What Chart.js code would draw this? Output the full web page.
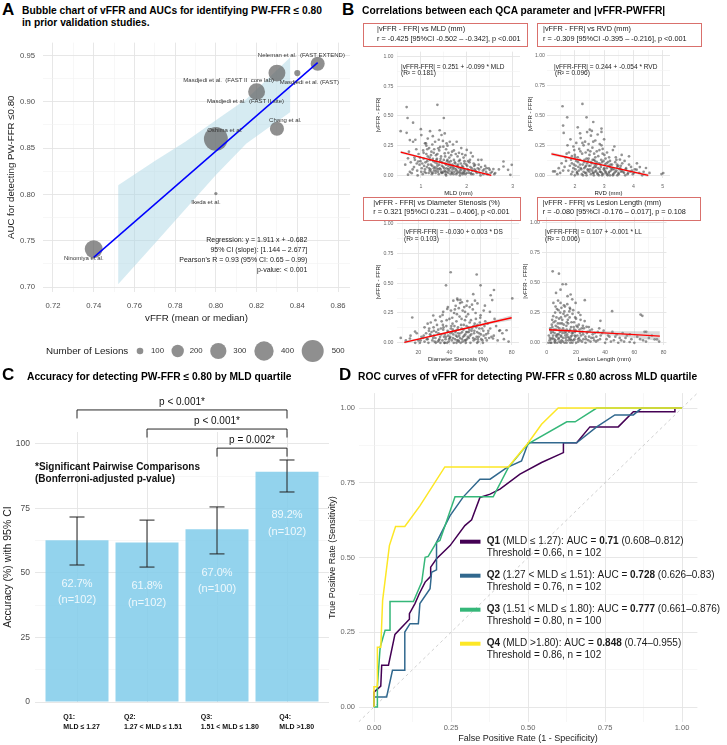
<!DOCTYPE html>
<html><head><meta charset="utf-8">
<title>vFFR figure</title>
<script src="https://cdn.jsdelivr.net/npm/chart.js@4.4.1/dist/chart.umd.min.js"></script>
<style>
html,body{margin:0;padding:0;background:#fff;}
body{width:727px;height:745px;position:relative;overflow:hidden;font-family:'Liberation Sans',Arial,Helvetica,sans-serif;color:#1a1a1a;}
canvas{position:absolute;display:block;}
.t{position:absolute;white-space:nowrap;}
.box{position:absolute;border:1px solid #d9706c;box-sizing:border-box;}
</style></head><body>
<script>
// ================= DATA =================
// --- Panel A: prior validation studies ---
const studyNames = ['Ninomiya et al.','Ikeda et al.','Oshima et al.','Masdjedi et al.  (FAST II site)','Chang et al.','Masdjedi et al.  (FAST II  core lab)','Masdjedi et al. (FAST)','Neleman et al.  (FAST EXTEND)'];
const studyVFFR = [0.74, 0.80, 0.80, 0.82, 0.83, 0.83, 0.84, 0.85];
const studyAUC = [0.741, 0.801, 0.860, 0.911, 0.871, 0.931, 0.931, 0.941];
const studyLesions = [350, 70, 580, 320, 240, 320, 95, 240];
const studyLabelX = [0.7351, 0.7951, 0.8044, 0.8146, 0.8341, 0.8063, 0.8459, 0.8420];
const studyLabelY = [0.731, 0.7919, 0.8688, 0.9009, 0.8795, 0.9233, 0.9212, 0.950];
const regSlope = 1.911, regIntercept = -0.682, regXRange = [0.74, 0.85];
const ciX = [0.752, 0.77, 0.785, 0.80, 0.815, 0.8366];
const ciUpper = [0.810, 0.836, 0.857, 0.880, 0.903, 0.948];
const ciLower = [0.703, 0.747, 0.784, 0.821, 0.855, 0.889];
const statLines = ['Regression: y = 1.911 x + -0.682','95% CI (slope): [1.144 – 2.677]',"Pearson's R = 0.93 (95% CI: 0.65 – 0.99)",'p-value: < 0.001'];
const legendN = [100, 200, 300, 400, 500];
const aXTicks = [0.72,0.74,0.76,0.78,0.80,0.82,0.84,0.86];
const aYTicks = [0.70,0.75,0.80,0.85,0.90,0.95];

// --- Panel B: |vFFR-FFR| vs QCA parameters (x,y pairs) ---
const mldPts = [0.69,0.575,1.36,0.594,0.71,0.483,1.50,0.483,0.83,0.444,0.56,0.372,0.69,0.358,1.00,0.389,1.20,0.372,1.41,0.38,1.52,0.353,1.45,0.34,0.76,0.297,0.83,0.283,1.01,0.339,1.09,0.27,1.31,0.283,1.63,0.283,1.78,0.283,2.00,0.214,1.23,0.20,1.38,0.228,1.49,0.242,1.52,0.186,0.72,0.144,0.87,0.131,0.94,0.117,2.80,0.117,2.98,0.089,2.80,0.075,2.90,0.047,2.58,0.053,0.72,0.006,0.80,0.019,2.32,0.131,2.25,0.131,2.43,0.061,2.50,0.047,2.18,0.089,2.07,0.131,
1.05,0.21,1.12,0.25,1.18,0.23,1.25,0.26,1.28,0.19,1.33,0.17,1.40,0.21,1.44,0.16,1.55,0.22,1.60,0.19,1.66,0.17,1.72,0.21,1.80,0.16,1.85,0.13,1.90,0.18,1.95,0.12,0.95,0.18,0.90,0.22,0.98,0.15,1.06,0.14,1.10,0.11,1.15,0.16,1.20,0.13,1.22,0.09,1.27,0.12,1.30,0.07,1.35,0.10,1.38,0.05,1.42,0.12,1.46,0.08,1.48,0.03,1.53,0.10,1.56,0.06,1.58,0.13,1.62,0.04,1.64,0.09,1.68,0.02,1.70,0.07,1.74,0.11,1.76,0.05,1.79,0.08,1.82,0.03,1.84,0.06,1.87,0.10,1.89,0.02,1.92,0.07,1.96,0.04,1.99,0.09,2.02,0.05,2.05,0.02,2.08,0.07,2.12,0.04,2.15,0.10,2.20,0.03,2.24,0.06,2.28,0.02,2.35,0.04,2.40,0.08,2.45,0.01,2.55,0.03,2.62,0.02,2.70,0.05,1.02,0.06,1.08,0.03,1.13,0.07,1.17,0.02,1.21,0.05,1.24,0.01,1.29,0.04,1.32,0.02,1.36,0.08,1.39,0.01,1.43,0.05,1.47,0.02,1.51,0.06,1.54,0.01,1.57,0.03,1.61,0.11,1.65,0.01,1.69,0.05,1.73,0.03,1.77,0.01,1.81,0.09,1.86,0.04,1.91,0.01,1.94,0.05,2.00,0.02,2.10,0.01,2.17,0.05,2.26,0.09,0.85,0.07,0.92,0.04,0.97,0.09,0.78,0.11,0.66,0.09,0.74,0.20,0.88,0.30,1.15,0.31,1.26,0.33,1.48,0.29,1.58,0.25,1.70,0.26,1.88,0.23,2.13,0.16,1.35,0.14,1.19,0.04,1.44,0.03,1.60,0.02,1.72,0.13,1.93,0.15,2.03,0.12,1.12,0.18,1.04,0.01,0.93,0.00,1.55,0.00,1.85,0.00,2.30,0.00,2.95,0.005,2.60,0.01,
1.01,0.03,1.03,0.10,1.07,0.08,1.09,0.05,1.11,0.02,1.14,0.12,1.16,0.09,1.18,0.06,1.19,0.15,1.23,0.03,1.25,0.08,1.26,0.14,1.28,0.06,1.31,0.11,1.33,0.04,1.34,0.13,1.37,0.03,1.40,0.09,1.41,0.06,1.43,0.14,1.45,0.02,1.46,0.11,1.49,0.07,1.50,0.13,1.52,0.04,1.55,0.09,1.57,0.12,1.59,0.05,1.60,0.08,1.63,0.06,1.65,0.12,1.67,0.03,1.69,0.09,1.71,0.01,1.73,0.06,1.75,0.10,1.78,0.04,1.80,0.07,1.83,0.12,1.85,0.02,1.88,0.05,1.90,0.08,1.93,0.03,1.95,0.10,1.97,0.01,2.01,0.08,2.04,0.04,2.06,0.11,2.09,0.02,2.11,0.06,2.14,0.01,2.16,0.08,2.19,0.04,2.22,0.02,2.27,0.05,2.31,0.07,2.36,0.01,2.38,0.05,2.42,0.03,2.48,0.06,2.52,0.02,1.06,0.19,1.14,0.22,1.22,0.17,1.29,0.22,1.36,0.18,1.42,0.24,1.53,0.16,1.62,0.15,1.68,0.20,1.76,0.18,1.83,0.19,1.97,0.17,2.09,0.19,0.99,0.12,0.91,0.10,0.86,0.15,0.82,0.05,0.76,0.03,1.11,0.27,1.39,0.30,1.56,0.27,1.26,0.02,1.34,0.06,1.53,0.03,1.66,0.07,1.79,0.02,1.94,0.02];
const rvdPts = [1.58,0.575,2.26,0.594,1.74,0.483,2.40,0.483,1.60,0.414,2.63,0.444,1.62,0.353,2.51,0.38,2.91,0.389,2.91,0.361,5.02,0.019,4.96,0.011,1.26,0.033,1.32,0.033,3.85,0.158,3.54,0.131,4.22,0.069,4.43,0.061,4.11,0.047,
1.85,0.30,2.05,0.27,2.20,0.31,2.35,0.28,2.55,0.33,2.70,0.29,2.85,0.26,3.00,0.30,1.95,0.24,2.15,0.22,2.30,0.25,2.45,0.21,2.60,0.23,2.75,0.20,2.95,0.22,3.10,0.19,3.30,0.21,1.80,0.19,2.00,0.17,2.10,0.15,2.25,0.18,2.40,0.14,2.50,0.17,2.65,0.13,2.80,0.16,3.05,0.14,3.20,0.12,3.40,0.15,1.70,0.12,1.90,0.10,2.05,0.12,2.18,0.09,2.32,0.11,2.48,0.08,2.58,0.10,2.72,0.07,2.88,0.09,3.00,0.06,3.15,0.08,3.28,0.05,3.45,0.07,3.60,0.04,3.75,0.06,3.90,0.03,4.05,0.05,1.65,0.07,1.78,0.04,1.95,0.06,2.08,0.03,2.22,0.05,2.35,0.02,2.45,0.04,2.55,0.01,2.62,0.06,2.70,0.03,2.78,0.01,2.85,0.05,2.92,0.02,3.02,0.04,3.10,0.01,3.18,0.03,3.25,0.06,3.35,0.02,3.42,0.04,3.50,0.01,3.58,0.03,3.68,0.02,3.80,0.01,3.95,0.04,4.20,0.02,4.30,0.00,1.50,0.02,1.55,0.10,1.68,0.15,1.88,0.01,2.00,0.00,2.12,0.07,2.28,0.00,2.38,0.08,2.52,0.05,2.68,0.09,2.75,0.11,2.82,0.00,2.98,0.12,3.08,0.10,3.12,0.00,3.22,0.09,3.38,0.11,3.48,0.08,3.55,0.06,3.62,0.10,3.72,0.00,3.85,0.09,3.98,0.01,4.12,0.10,4.35,0.03,4.55,0.02,2.42,0.36,2.58,0.37,2.18,0.35,2.78,0.34,1.98,0.21,3.35,0.24,3.60,0.17,2.90,0.13,2.10,0.40,2.02,0.05,2.32,0.06,2.62,0.02,2.88,0.03,3.05,0.02,3.30,0.00,2.45,0.12,2.70,0.15,2.95,0.18,3.70,0.12,1.45,0.06,1.75,0.25,1.90,0.16,
2.03,0.08,2.07,0.02,2.11,0.11,2.14,0.04,2.17,0.13,2.20,0.06,2.24,0.01,2.27,0.09,2.30,0.03,2.33,0.13,2.36,0.07,2.39,0.02,2.42,0.10,2.44,0.05,2.47,0.14,2.50,0.03,2.53,0.08,2.56,0.11,2.59,0.04,2.61,0.13,2.64,0.02,2.67,0.07,2.69,0.12,2.72,0.04,2.74,0.09,2.77,0.02,2.80,0.06,2.83,0.10,2.86,0.03,2.89,0.07,2.93,0.11,2.96,0.01,2.99,0.05,3.03,0.09,3.06,0.03,3.09,0.06,3.13,0.11,3.16,0.02,3.19,0.07,3.23,0.04,3.27,0.09,3.31,0.01,3.34,0.05,3.39,0.03,3.44,0.09,3.49,0.02,3.53,0.05,3.57,0.08,3.65,0.03,3.74,0.05,3.82,0.02,3.92,0.07,4.02,0.02,1.83,0.08,1.87,0.13,1.92,0.03,1.97,0.09,2.01,0.15,2.19,0.20,2.37,0.19,2.53,0.20,2.66,0.18,2.84,0.21,3.01,0.17,3.17,0.15,3.42,0.13,2.26,0.27,2.47,0.26,2.63,0.28,2.91,0.25,1.72,0.18,1.60,0.04,1.40,0.01,2.10,0.01,2.40,0.00,2.65,0.00,2.93,0.00,3.20,0.00,3.45,0.00];
const dsPts = [40.8,0.592,57.5,0.573,37.8,0.482,60.0,0.482,68.6,0.443,55.3,0.408,66.5,0.399,80.4,0.372,67.5,0.358,45.3,0.358,42.5,0.353,16.1,0.212,17.9,0.094,8.7,0.041,14.6,0.036,72.5,0.105,76.7,0.105,68.0,0.036,29.6,0.229,35.6,0.234,38.6,0.284,46.8,0.333,51.0,0.311,56.4,0.353,62.8,0.311,
20,0.02,22,0.05,24,0.01,25,0.08,26,0.03,27,0.12,28,0.06,29,0.02,30,0.10,31,0.04,32,0.15,32.5,0.01,33,0.08,34,0.05,35,0.18,35.5,0.02,36,0.11,37,0.07,37.5,0.03,38,0.14,38.5,0.00,39,0.09,40,0.20,40.5,0.05,41,0.12,41.5,0.02,42,0.16,42.5,0.07,43,0.25,43.5,0.03,44,0.10,44.5,0.18,45,0.05,45.5,0.13,46,0.01,46.5,0.22,47,0.08,47.5,0.15,48,0.03,48.5,0.27,49,0.11,49.5,0.06,50,0.19,50.5,0.02,51,0.14,51.5,0.09,52,0.24,52.5,0.04,53,0.17,54,0.07,54.5,0.12,55,0.28,55.5,0.02,56,0.10,57,0.20,57.5,0.05,58,0.15,59,0.08,60,0.23,60.5,0.03,61,0.12,62,0.06,63,0.18,64,0.02,65,0.10,66,0.26,67,0.05,70,0.14,71,0.02,74,0.08,78,0.01,18,0.00,21,0.00,23,0.04,26.5,0.00,28.5,0.09,30.5,0.01,33.5,0.03,36.5,0.05,39.5,0.01,40.2,0.04,42.8,0.00,44.2,0.06,46.8,0.04,47.2,0.00,49.8,0.02,51.8,0.05,53.5,0.00,56.5,0.03,58.5,0.01,61.5,0.00,63.5,0.07,28,0.17,31,0.19,34,0.22,36,0.26,39,0.30,41,0.27,44,0.31,46,0.29,48,0.34,50,0.26,53,0.30,58,0.33,62,0.27,45,0.37,47,0.36,24,0.13,26,0.16,12,0.02,15,0.06,19,0.08,34.5,0.12,43.2,0.14,48.2,0.09,52.8,0.11,57.2,0.13,59.5,0.17,64.5,0.16,69,0.20,75,0.03,30,0.06,37,0.00,41.8,0.09,45.8,0.02,50.2,0.07,55.8,0.08,
25.5,0.03,27.5,0.07,29.5,0.04,31.5,0.09,33.2,0.02,34.8,0.07,36.2,0.13,37.8,0.05,38.8,0.10,39.8,0.03,40.8,0.08,41.2,0.14,42.2,0.04,43.8,0.09,44.8,0.02,45.2,0.11,46.2,0.06,47.8,0.12,48.8,0.05,49.2,0.15,50.8,0.09,51.2,0.03,52.2,0.13,53.2,0.06,54.2,0.10,55.2,0.04,56.2,0.16,57.8,0.09,58.2,0.03,59.2,0.12,60.2,0.07,61.8,0.10,62.5,0.14,63.2,0.04,64.8,0.08,66.2,0.12,68.5,0.06,72,0.10,26.8,0.10,29.8,0.13,32.8,0.11,35.8,0.15,38.2,0.19,41.8,0.21,44.8,0.24,47.8,0.20,50.8,0.22,53.8,0.19,56.8,0.25,59.8,0.21,43.5,0.28,49.5,0.30,51.5,0.35,54.5,0.32,36.8,0.00,39.2,0.06,42.2,0.11,45.5,0.08,48.5,0.01,52.5,0.09,55.5,0.14,58.8,0.05,61.2,0.02,65.5,0.04,23.5,0.06,21.5,0.02,31.2,0.00,34.2,0.00,44.5,0.00,50.5,0.00,57.8,0.00];
const llPts = [4.1,0.592,8.4,0.573,10.9,0.485,13.2,0.485,9.5,0.44,6.4,0.413,16.4,0.40,14.3,0.386,26.1,0.353,44.8,0.262,64.3,0.234,65.5,0.223,36.8,0.182,56.8,0.006,73.9,0.028,75.5,0.028,67.0,0.091,68.2,0.091,27.3,0.132,
2,0.02,3,0.08,3.5,0.15,4,0.04,4.5,0.22,5,0.11,5.5,0.01,6,0.18,6.5,0.06,7,0.28,7.5,0.13,8,0.03,8.5,0.20,9,0.09,9.5,0.33,10,0.05,10.5,0.16,11,0.01,11.5,0.24,12,0.10,12.5,0.30,13,0.04,13.5,0.14,14,0.07,14.5,0.19,15,0.02,15.5,0.26,16,0.11,16.5,0.05,17,0.17,17.5,0.36,18,0.08,18.5,0.13,19,0.03,19.5,0.21,20,0.10,21,0.06,22,0.15,23,0.02,24,0.12,25,0.07,26,0.18,27,0.03,28,0.09,29,0.05,30,0.01,31,0.11,32,0.04,33,0.08,35,0.02,37,0.06,39,0.10,41,0.03,43,0.05,46,0.02,48,0.07,50,0.04,53,0.01,55,0.06,58,0.03,62,0.05,66,0.02,70,0.04,77,0.01,1.5,0.06,2.5,0.12,3.2,0.00,4.2,0.09,5.2,0.03,6.2,0.14,7.2,0.00,8.2,0.07,9.2,0.16,10.2,0.02,11.2,0.12,12.2,0.00,13.2,0.09,14.2,0.23,15.2,0.04,16.2,0.00,17.2,0.08,18.2,0.27,19.2,0.06,20.2,0.00,21.2,0.13,22.2,0.04,23.2,0.19,24.2,0.01,25.2,0.03,5.8,0.25,7.8,0.35,9.8,0.21,11.8,0.31,13.8,0.17,15.8,0.29,19.8,0.33,21.8,0.25,6.8,0.05,8.8,0.01,10.8,0.08,12.8,0.06,16.8,0.02,18.8,0.11,22.8,0.08,24.8,0.14,28.8,0.13,33.8,0.01,36,0.12,40,0.00,45,0.09,52,0.08,60,0.00,72,0.06,3.8,0.19,2.2,0.04,1.2,0.00,
2.8,0.10,3.3,0.03,3.9,0.13,4.4,0.06,4.8,0.17,5.4,0.08,5.9,0.02,6.3,0.11,6.7,0.21,7.3,0.07,7.7,0.16,8.3,0.04,8.7,0.12,9.3,0.25,9.7,0.06,10.3,0.10,10.7,0.19,11.3,0.04,11.7,0.15,12.3,0.08,12.7,0.22,13.3,0.02,13.7,0.11,14.3,0.05,14.7,0.16,15.3,0.09,15.7,0.21,16.3,0.03,16.7,0.13,17.3,0.06,17.7,0.24,18.3,0.02,18.7,0.17,19.3,0.09,19.7,0.05,20.5,0.14,21.5,0.03,22.5,0.11,23.5,0.06,24.5,0.09,25.5,0.12,26.5,0.05,27.5,0.08,28.5,0.02,29.5,0.10,31.5,0.07,32.5,0.02,34,0.05,36.5,0.03,38,0.08,42,0.06,44,0.01,47,0.05,51,0.02,54,0.04,57,0.07,64,0.03,68,0.01,6.1,0.30,8.1,0.27,10.1,0.29,12.1,0.26,14.1,0.32,16.1,0.28,20.1,0.20,23.1,0.23,4.6,0.33,2.6,0.00,5.6,0.00,9.6,0.00,13.6,0.00,17.6,0.00,21.6,0.01,26.6,0.00,30.6,0.04,35,0.09,49,0.00];
// fitted lines with half-width of 95% CI band
const fitMLDx = [0.56, 1.0, 1.55, 2.0, 2.535], fitMLDy = [0.196, 0.152, 0.098, 0.053, 0.0], fitMLDse = [0.012, 0.008, 0.005, 0.007, 0.010];
const fitRVDx = [1.2, 2.0, 2.8, 3.6, 4.51], fitRVDy = [0.179, 0.136, 0.093, 0.050, 0.0], fitRVDse = [0.013, 0.008, 0.006, 0.008, 0.013];
const fitDSx = [11, 25, 40, 55, 68, 80], fitDSy = [0.003, 0.045, 0.090, 0.135, 0.174, 0.210], fitDSse = [0.012, 0.008, 0.006, 0.008, 0.013, 0.020];
const fitLLx = [1.6, 15, 30, 45, 60, 77.5], fitLLy = [0.108, 0.099, 0.088, 0.078, 0.067, 0.055], fitLLse = [0.010, 0.007, 0.010, 0.018, 0.028, 0.040];
const corrTitles = [
  ['|vFFR - FFR| vs MLD (mm)','r = -0.425 [95%CI -0.502 – -0.342], p <0.001'],
  ['|vFFR - FFR| vs RVD (mm)','r = -0.309 [95%CI -0.395 – -0.216], p <0.001'],
  ['|vFFR - FFR| vs Diameter Stenosis (%)','r = 0.321 [95%CI 0.231 – 0.406], p <0.001'],
  ['|vFFR - FFR| vs Lesion Length (mm)','r = -0.080 [95%CI -0.176 – 0.017], p = 0.108']];
const corrEquations = [
  ['|vFFR-FFR| = 0.251 + -0.099 * MLD','(R² = 0.181)'],
  ['|vFFR-FFR| = 0.244 + -0.054 * RVD',' (R² = 0.096)'],
  ['|vFFR-FFR| = -0.030 + 0.003 * DS','(R² = 0.103)'],
  ['|vFFR-FFR| = 0.107 + -0.001 * LL',' (R² = 0.006)']];
const yTicksB = [0, 0.25, 0.5, 0.75, 1];

// --- Panel C: accuracy by MLD quartile ---
const quartileNames = ['Q1:','Q2:','Q3:','Q4:'];
const quartileRanges = ['MLD ≤ 1.27','1.27 < MLD ≤ 1.51','1.51 < MLD ≤ 1.80','MLD >1.80'];
const accuracy = [62.7, 61.8, 67.0, 89.2];
const accLower = [53.1, 52.3, 57.4, 81.4];
const accUpper = [71.7, 70.5, 75.6, 93.8];
const accN = [102, 102, 100, 102];
const bracketPairs = [[1,4],[2,4],[3,4]];
const bracketY = [113.2, 105.8, 98.4];
const bracketLabels = ['p < 0.001*','p < 0.001*','p = 0.002*'];
const yTicksC = [0, 25, 50, 75, 100];

// --- Panel D: ROC curves ---
const rocQ1x = [0,0,0.022,0.025,0.047,0.068,0.115,0.115,0.133,0.147,0.166,0.184,0.184,0.203,0.247,0.295,0.317,0.344,0.377,0.409,0.474,0.544,0.615,0.615,0.658,0.701,0.793,0.842,0.977,0.977,1];
const rocQ1y = [0,0.05,0.07,0.14,0.14,0.243,0.294,0.312,0.346,0.379,0.418,0.437,0.468,0.496,0.54,0.607,0.626,0.701,0.712,0.729,0.779,0.818,0.851,0.884,0.884,0.937,0.937,0.988,0.988,1,1];
const rocQ2x = [0,0,0.041,0.06,0.1,0.1,0.117,0.144,0.149,0.182,0.187,0.203,0.203,0.203,0.247,0.29,0.344,0.377,0.431,0.479,0.501,0.658,0.723,0.782,0.842,0.869,1];
const rocQ2y = [0,0.034,0.034,0.123,0.123,0.251,0.279,0.279,0.346,0.396,0.451,0.459,0.512,0.551,0.64,0.703,0.762,0.762,0.801,0.823,0.884,0.884,0.937,0.977,0.977,1,1];
const rocQ3x = [0,0.011,0.011,0.02,0.036,0.052,0.052,0.128,0.155,0.166,0.176,0.203,0.214,0.263,0.387,0.436,0.485,0.506,0.626,0.653,0.723,1];
const rocQ3y = [0,0,0.07,0.2,0.257,0.257,0.353,0.353,0.418,0.501,0.504,0.551,0.557,0.703,0.703,0.801,0.862,0.884,0.954,0.954,1,1];
const rocQ4x = [0,0,0.011,0.011,0.022,0.028,0.05,0.07,0.1,0.149,0.23,0.436,0.501,0.544,0.598,1];
const rocQ4y = [0,0.068,0.068,0.2,0.2,0.357,0.54,0.604,0.604,0.673,0.803,0.803,0.884,0.946,1,1];
const rocNames = ['Q1','Q2','Q3','Q4'];
const rocRanges = [' (MLD ≤ 1.27): AUC = ',' (1.27 < MLD ≤ 1.51): AUC = ',' (1.51 < MLD ≤ 1.80): AUC = ',' (MLD >1.80): AUC = '];
const rocAUC = ['0.71','0.728','0.777','0.848'];
const rocCI = [' (0.608–0.812)',' (0.626–0.83)',' (0.661–0.876)',' (0.74–0.955)'];
const rocThreshold = ['0.66','0.76','0.80','0.86'];
const rocN = [102, 102, 100, 102];
const rocColors = ['#440154','#31688E','#35B779','#FDE725'];
const dTicks = [0, 0.25, 0.5, 0.75, 1];

// ================= HELPERS =================
const F = "'Liberation Sans', Arial, Helvetica, sans-serif";
Chart.defaults.font.family = F;
Chart.defaults.animation = false;
Chart.defaults.responsive = false;
Chart.defaults.maintainAspectRatio = false;
Chart.defaults.devicePixelRatio = 1;
Chart.defaults.plugins.legend.display = false;
Chart.defaults.plugins.tooltip.enabled = false;
Chart.defaults.events = [];

function mkCanvas(x, y, w, h) {
  const c = document.createElement('canvas');
  c.width = w; c.height = h;
  c.style.left = x + 'px'; c.style.top = y + 'px';
  c.style.width = w + 'px'; c.style.height = h + 'px';
  document.body.appendChild(c);
  return c;
}
function txt(s, x, yc, size, o) {
  o = o || {};
  const d = document.createElement('div');
  d.className = 't';
  d.style.fontSize = size + 'px';
  d.style.lineHeight = (size * 1.2) + 'px';
  d.style.top = (yc - size * 0.62) + 'px';
  if (o.bold) d.style.fontWeight = 'bold';
  if (o.color) d.style.color = o.color;
  if (o.align === 'right') { d.style.right = (727 - x) + 'px'; d.style.textAlign = 'right'; }
  else d.style.left = x + 'px';
  d.textContent = s;
  document.body.appendChild(d);
  return d;
}
function box(x, y, w, h) {
  const d = document.createElement('div');
  d.className = 'box';
  d.style.left = x + 'px'; d.style.top = y + 'px';
  d.style.width = w + 'px'; d.style.height = h + 'px';
  document.body.appendChild(d);
}
function midpoints(arr) { const r = []; for (let i = 0; i < arr.length - 1; i++) r.push((arr[i] + arr[i + 1]) / 2); return r; }
function axis(o) {
  const majors = o.majors;
  const all = [...majors, ...(o.minors || [])].sort((a, b) => a - b);
  const maj = v => majors.some(m => Math.abs(m - v) < 1e-9);
  return {
    type: 'linear', min: o.min, max: o.max, offset: false,
    afterBuildTicks: s => { s.ticks = all.map(v => ({ value: v })); },
    afterFit: s => { if (o.h) s.height = o.box; else s.width = o.box; },
    grid: { display: true, offset: false, drawTicks: false,
      color: c => (c.tick && maj(c.tick.value)) ? '#e4e4e4' : '#f1f1f1',
      lineWidth: c => (c.tick && maj(c.tick.value)) ? 0.9 : 0.6 },
    border: { display: false },
    ticks: { display: o.labels !== false, autoSkip: false, maxRotation: 0, minRotation: 0,
      padding: o.pad || 0, color: o.color || '#4d4d4d', font: { size: o.size },
      callback: v => maj(v) ? o.fmt(v) : '' },
    title: o.title ? { display: true, text: o.title, color: '#1a1a1a', font: { size: o.tsize }, padding: o.tpad } : { display: false }
  };
}
function pairs(flat) { const r = []; for (let i = 0; i < flat.length; i += 2) r.push({ x: flat[i], y: flat[i + 1] }); return r; }
function bubbleRadius(n) { return Math.sqrt(Math.max(0.275 * n - 16.6, 2)); }

// ================= PANEL A =================
(function () {
  const cx = 0, cy = 30, cw = 362, ch = 340;
  const c = mkCanvas(cx, cy, cw, ch);
  const labelPlugin = {
    id: 'aLabels',
    afterDatasetsDraw(chart) {
      const ctx = chart.ctx, xs = chart.scales.x, ys = chart.scales.y;
      ctx.save();
      ctx.font = '6px ' + F; ctx.fillStyle = '#333'; ctx.textAlign = 'center'; ctx.textBaseline = 'middle';
      studyNames.forEach((s, i) => ctx.fillText(s, xs.getPixelForValue(studyLabelX[i]), ys.getPixelForValue(studyLabelY[i])));
      ctx.restore();
    },
    afterDraw(chart) {
      const ctx = chart.ctx; const y = 351 - cy;
      ctx.save();
      ctx.textBaseline = 'middle'; ctx.textAlign = 'left';
      ctx.fillStyle = '#1a1a1a'; ctx.font = '9.8px ' + F;
      ctx.fillText('Number of Lesions', 46, y);
      const cxs = [140, 177.7, 218.3, 264, 312.7], lxs = [151, 189.7, 233.3, 281, 331.7];
      legendN.forEach((n, i) => {
        ctx.fillStyle = 'rgba(100,100,100,0.72)';
        ctx.beginPath(); ctx.arc(cxs[i], y, bubbleRadius(n), 0, Math.PI * 2); ctx.fill();
        ctx.fillStyle = '#333'; ctx.font = '7.8px ' + F;
        ctx.fillText(String(n), lxs[i], y);
      });
      ctx.restore();
    }
  };
  new Chart(c, {
    type: 'scatter',
    data: { datasets: [
      { type: 'line', data: regXRange.map(x => ({ x, y: regIntercept + regSlope * x })), borderColor: '#0000ff', borderWidth: 1.5, pointRadius: 0, fill: false, order: 1 },
      { type: 'bubble', data: studyVFFR.map((x, i) => ({ x, y: studyAUC[i], r: bubbleRadius(studyLesions[i]) })), backgroundColor: 'rgba(100,100,100,0.72)', borderWidth: 0, order: 2 },
      { type: 'line', data: ciX.map((x, i) => ({ x, y: ciUpper[i] })), borderWidth: 0, borderColor: 'rgba(0,0,0,0)', pointRadius: 0, fill: '+1', backgroundColor: 'rgba(173,216,230,0.5)', order: 3 },
      { type: 'line', data: ciX.map((x, i) => ({ x, y: ciLower[i] })), borderWidth: 0, borderColor: 'rgba(0,0,0,0)', pointRadius: 0, fill: false, order: 4 }
    ] },
    options: {
      layout: { padding: { top: 10, right: 10, left: 0, bottom: 45 } },
      scales: {
        x: axis({ min: 0.7151, max: 0.8659, majors: aXTicks, minors: midpoints(aXTicks), fmt: v => v.toFixed(2), size: 7.7, pad: 9, h: true, box: 33,
          title: 'vFFR (mean or median)', tsize: 9.7, tpad: { top: 0, bottom: 1.2 } }),
        y: axis({ min: 0.6947, max: 0.9639, majors: aYTicks, minors: midpoints(aYTicks), fmt: v => v.toFixed(2), size: 7.7, pad: 8, box: 43,
          title: 'AUC for detecting PW-FFR ≤0.80', tsize: 9.7, tpad: { top: 5.2, bottom: 0 } })
      }
    },
    plugins: [labelPlugin]
  });
})();

// ================= PANEL B =================
function scatterPanel(p) {
  const c = mkCanvas(p.cx, p.cy, p.cw, p.ch);
  const ln = p.fx.map((x, i) => ({ x, y: p.fy[i] }));
  const up = p.fx.map((x, i) => ({ x, y: p.fy[i] + p.fse[i] }));
  const lo = p.fx.map((x, i) => ({ x, y: p.fy[i] - p.fse[i] }));
  new Chart(c, {
    type: 'scatter',
    data: { datasets: [
      { type: 'line', data: ln, borderColor: '#ff0000', borderWidth: 1.4, pointRadius: 0, fill: false, order: 1 },
      { type: 'line', data: up, borderWidth: 0, borderColor: 'rgba(0,0,0,0)', pointRadius: 0, fill: '+1', backgroundColor: 'rgba(150,150,150,0.35)', order: 2 },
      { type: 'line', data: lo, borderWidth: 0, borderColor: 'rgba(0,0,0,0)', pointRadius: 0, fill: false, order: 3 },
      { type: 'scatter', data: pairs(p.pts), pointRadius: 1.35, backgroundColor: 'rgba(75,75,75,0.6)', borderWidth: 0, order: 4 }
    ] },
    options: {
      layout: { padding: { top: p.T - p.cy, right: p.cx + p.cw - p.R, left: 0, bottom: 0 } },
      scales: {
        x: axis({ min: p.xmin, max: p.xmax, majors: p.xMaj, minors: p.xMin, fmt: v => String(v), size: 5.2, color: '#666', pad: p.xpad, h: true, box: p.cy + p.ch - p.B,
          title: p.xTitle, tsize: 6, tpad: { top: 0, bottom: p.xtb } }),
        y: axis({ min: -0.022, max: 1.042, majors: yTicksB, minors: midpoints(yTicksB), fmt: v => v.toFixed(2), size: 5.2, color: '#666', pad: p.ypad, box: p.L - p.cx,
          title: '|vFFR - FFR|', tsize: 6, tpad: { top: p.ytt, bottom: 0 } })
      }
    }
  });
}
scatterPanel({ cx: 374, cy: 45, cw: 150, ch: 153, L: 397, T: 50, R: 520, B: 178, xmin: 0.48, xmax: 3.16, xMaj: [1, 2, 3], xMin: [0.5, 1.5, 2.5],
  pts: mldPts, fx: fitMLDx, fy: fitMLDy, fse: fitMLDse, xTitle: 'MLD (mm)', xpad: 5.5, xtb: 1.4, ypad: 3.5, ytt: 0.4 });
scatterPanel({ cx: 526, cy: 45, cw: 150, ch: 153, L: 547, T: 50, R: 670, B: 178, xmin: 1.05, xmax: 5.25, xMaj: [2, 3, 4, 5], xMin: [1.5, 2.5, 3.5, 4.5],
  pts: rvdPts, fx: fitRVDx, fy: fitRVDy, fse: fitRVDse, xTitle: 'RVD (mm)', xpad: 5.5, xtb: 1.4, ypad: 2, ytt: 0.9 });
scatterPanel({ cx: 374, cy: 212, cw: 150, ch: 153, L: 397, T: 217, R: 519, B: 345.4, xmin: 6.3, xmax: 84.7, xMaj: [20, 40, 60, 80], xMin: [10, 30, 50, 70],
  pts: dsPts, fx: fitDSx, fy: fitDSy, fse: fitDSse, xTitle: 'Diameter Stenosis (%)', xpad: 4.5, xtb: 2.4, ypad: 3.5, ytt: 0.4 });
scatterPanel({ cx: 521, cy: 212, cw: 150, ch: 153, L: 542, T: 217, R: 667, B: 345.4, xmin: -3.2, xmax: 82.0, xMaj: [0, 20, 40, 60, 80], xMin: [10, 30, 50, 70],
  pts: llPts, fx: fitLLx, fy: fitLLy, fse: fitLLse, xTitle: 'Lesion Length (mm)', xpad: 4.5, xtb: 2.4, ypad: 2, ytt: 0.4 });

// ================= PANEL C =================
(function () {
  const cx = 0, cy = 385, cw = 335, ch = 360;
  const c = mkCanvas(cx, cy, cw, ch);
  const pos = quartileNames.map((_, i) => i + 1);
  const labelLeftOffset = [-13.7, -23, -16.3, -7.7];
  const plug = {
    id: 'cExtras',
    afterDraw(chart) {
      const ctx = chart.ctx, xs = chart.scales.x, ys = chart.scales.y;
      ctx.save();
      ctx.strokeStyle = '#222'; ctx.lineWidth = 1;
      pos.forEach((p, i) => {
        const x = xs.getPixelForValue(p), y1 = ys.getPixelForValue(accLower[i]), y2 = ys.getPixelForValue(accUpper[i]);
        ctx.beginPath();
        ctx.moveTo(x, y1); ctx.lineTo(x, y2);
        ctx.moveTo(x - 7.5, y1); ctx.lineTo(x + 7.5, y1);
        ctx.moveTo(x - 7.5, y2); ctx.lineTo(x + 7.5, y2);
        ctx.stroke();
      });
      ctx.fillStyle = 'rgba(255,255,255,0.85)'; ctx.font = '11px ' + F; ctx.textAlign = 'center'; ctx.textBaseline = 'middle';
      pos.forEach((p, i) => {
        const x = xs.getPixelForValue(p), yt = ys.getPixelForValue(accuracy[i]);
        ctx.fillText(accuracy[i].toFixed(1) + '%', x, yt + 43.5);
        ctx.fillText('(n=' + accN[i] + ')', x, yt + 60);
      });
      ctx.strokeStyle = '#111'; ctx.lineWidth = 0.9; ctx.fillStyle = '#111'; ctx.font = '10px ' + F;
      bracketPairs.forEach((pr, k) => {
        const xa = xs.getPixelForValue(pr[0]), xb = xs.getPixelForValue(pr[1]), y = ys.getPixelForValue(bracketY[k]);
        ctx.beginPath(); ctx.moveTo(xa, y + 8.5); ctx.lineTo(xa, y); ctx.lineTo(xb, y); ctx.lineTo(xb, y + 8.5); ctx.stroke();
        ctx.fillText(bracketLabels[k], (xa + xb) / 2, y - 8);
      });
      ctx.font = 'bold 7px ' + F; ctx.textAlign = 'left'; ctx.fillStyle = '#111';
      pos.forEach((p, i) => {
        const x = xs.getPixelForValue(p) + labelLeftOffset[i];
        ctx.fillText(quartileNames[i], x, 717 - cy);
        ctx.fillText(quartileRanges[i], x, 727 - cy);
      });
      ctx.restore();
    }
  };
  const xAx = axis({ min: 0.4, max: 4.6, majors: pos, minors: [], fmt: () => '', size: 7, labels: false, h: true, box: 43 });
  new Chart(c, {
    type: 'bar',
    data: { datasets: [{ data: pos.map((x, i) => ({ x, y: accuracy[i] })), backgroundColor: 'rgba(135,206,235,0.9)', borderWidth: 0, barPercentage: 0.9, categoryPercentage: 1 }] },
    options: {
      layout: { padding: { top: 47, right: 6, left: 0, bottom: 0 } },
      scales: {
        x: xAx,
        y: axis({ min: 0, max: 104.65, majors: yTicksC, minors: midpoints(yTicksC), fmt: v => String(v), size: 8.5, pad: 5, box: 35,
          title: 'Accuracy (%) with 95% CI', tsize: 10.5, tpad: { top: 1.7, bottom: 0 } })
      }
    },
    plugins: [plug]
  });
})();

// ================= PANEL D =================
(function () {
  const cx = 326, cy = 385, cw = 401, ch = 360;
  const c = mkCanvas(cx, cy, cw, ch);
  const rocX = [rocQ1x, rocQ2x, rocQ3x, rocQ4x], rocY = [rocQ1y, rocQ2y, rocQ3y, rocQ4y];
  const legendPlugin = {
    id: 'dLegend',
    afterDraw(chart) {
      const ctx = chart.ctx;
      const rowY = [541.7, 575.7, 609.7, 643.7];
      ctx.save(); ctx.textBaseline = 'middle'; ctx.textAlign = 'left';
      rocNames.forEach((nm, i) => {
        const y = rowY[i] - cy;
        ctx.strokeStyle = rocColors[i]; ctx.lineWidth = 4;
        ctx.beginPath(); ctx.moveTo(460 - cx, y); ctx.lineTo(480.5 - cx, y); ctx.stroke();
        let x = 486.7 - cx;
        const segs = [[nm, true], [rocRanges[i], false], [rocAUC[i], true], [rocCI[i], false]];
        ctx.fillStyle = '#1a1a1a';
        segs.forEach(([s, b]) => { ctx.font = (b ? 'bold ' : '') + '10px ' + F; ctx.fillText(s, x, y); x += ctx.measureText(s).width; });
        ctx.font = '10px ' + F;
        ctx.fillText('Threshold = ' + rocThreshold[i] + ', n = ' + rocN[i], 486.7 - cx, y + 12);
      });
      ctx.restore();
    }
  };
  const ds = [{ type: 'line', data: [-0.05, 1.05].map(v => ({ x: v, y: v })), borderColor: '#c4c4c4', borderWidth: 0.8, borderDash: [3, 3], pointRadius: 0, fill: false, order: 9 }];
  rocNames.forEach((nm, i) => ds.push({ type: 'line', data: rocX[i].map((x, j) => ({ x, y: rocY[i][j] })), borderColor: rocColors[i], borderWidth: 1.5, pointRadius: 0, fill: false, tension: 0, order: 4 - i }));
  new Chart(c, {
    type: 'scatter',
    data: { datasets: ds },
    options: {
      layout: { padding: { top: 6, right: 29.6, left: 0, bottom: 0 } },
      scales: {
        x: axis({ min: -0.05, max: 1.05, majors: dTicks, minors: midpoints(dTicks), fmt: v => v.toFixed(2), size: 7.5, color: '#666', pad: 1.5, h: true, box: 23,
          title: 'False Positive Rate (1 - Specificity)', tsize: 9, tpad: { top: 0, bottom: 0.6 } }),
        y: axis({ min: -0.05, max: 1.05, majors: dTicks, minors: midpoints(dTicks), fmt: v => v.toFixed(2), size: 7.5, color: '#666', pad: 3.6, box: 32.6,
          title: 'True Positive Rate (Sensitivity)', tsize: 9, tpad: { top: 1.6, bottom: 0 } })
      }
    },
    plugins: [legendPlugin]
  });
})();

// ================= TEXT OVERLAYS =================
txt('A', 2, 11, 17, { bold: true, color: '#000' });
txt('Bubble chart of vFFR and AUCs for identifying PW-FFR ≤ 0.80', 22, 11, 10.25, { bold: true, color: '#000' });
txt('in prior validation studies.', 22, 23.5, 10.25, { bold: true, color: '#000' });
statLines.forEach((s, i) => txt(s, 307.3, 240.3 + i * 10, 7, { align: 'right', color: '#1a1a1a' }));

txt('B', 342, 11, 17, { bold: true, color: '#000' });
txt('Correlations between each QCA parameter and |vFFR-PWFFR|', 362, 11, 10.25, { bold: true, color: '#000' });
const boxGeom = [[363, 22.5, 165, 24.5], [536.7, 22.5, 165, 24.5], [363, 196.7, 157.5, 24], [536.7, 196.7, 164, 24]];
const boxTextX = [377, 543, 373.3, 542.7];
const boxTextY = [[30, 40], [30, 40], [203.3, 212.7], [203.3, 212.7]];
boxGeom.forEach((g, i) => {
  box(g[0], g[1], g[2], g[3]);
  txt(corrTitles[i][0], boxTextX[i], boxTextY[i][0], 7.3, { color: '#1a1a1a' });
  txt(corrTitles[i][1], boxTextX[i], boxTextY[i][1], 7.3, { color: '#1a1a1a' });
});
const eqX = [[401, 401], [554, 555], [404, 404], [545, 545]];
const eqY = [[66.7, 73.3], [66.7, 73.3], [232, 239.5], [232, 239.5]];
corrEquations.forEach((e, i) => {
  txt(e[0], eqX[i][0], eqY[i][0], 6.5, { color: '#1a1a1a' });
  txt(e[1], eqX[i][1], eqY[i][1], 6.5, { color: '#1a1a1a' });
});

txt('C', 2, 376, 17, { bold: true, color: '#000' });
txt('Accuracy for detecting PW-FFR ≤ 0.80 by MLD quartile', 27, 377, 10.25, { bold: true, color: '#000' });
txt('*Significant Pairwise Comparisons', 35, 467.3, 10, { bold: true, color: '#111' });
txt('(Bonferroni-adjusted p-value)', 35, 479.5, 10, { bold: true, color: '#111' });

txt('D', 339, 376, 17, { bold: true, color: '#000' });
txt('ROC curves of vFFR for detecting PW-FFR ≤ 0.80 across MLD quartile', 358, 377, 10.25, { bold: true, color: '#000' });
</script>
</body></html>
